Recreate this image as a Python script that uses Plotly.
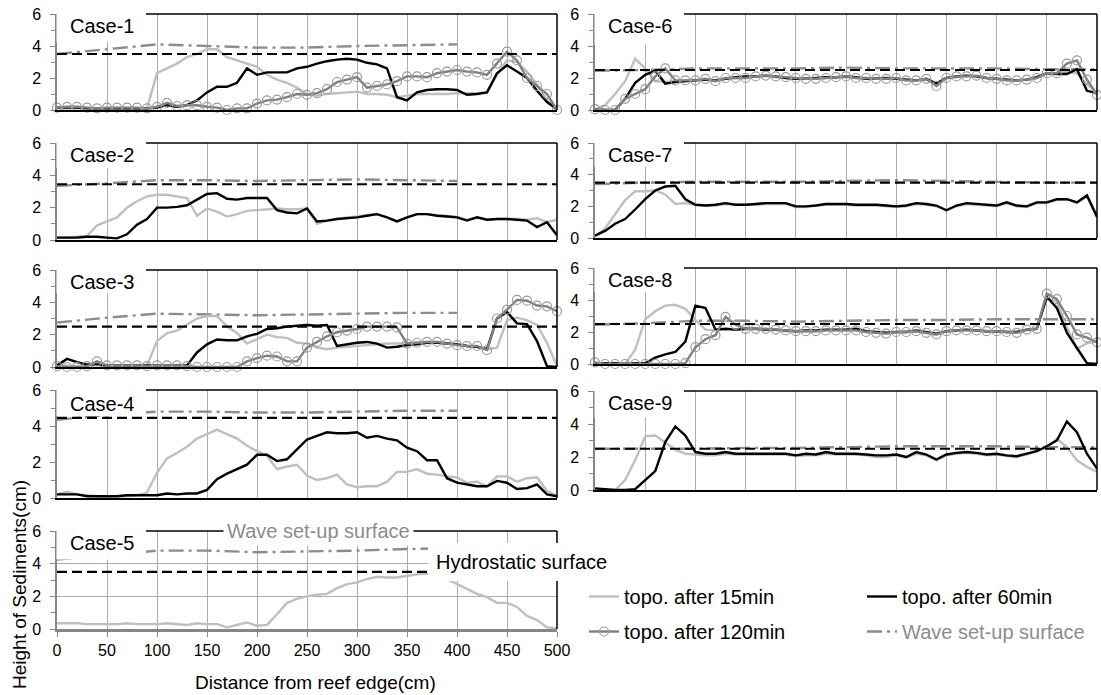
import plotly.graph_objects as go

FONT = "Liberation Sans, Arial, sans-serif"
W, H = 1101, 695

# ---------------- data ----------------
DIST = [0, 10, 20, 30, 40, 50, 60, 70, 80, 90, 100, 110, 120, 130, 140, 150, 160, 170, 180, 190,
        200, 210, 220, 230, 240, 250, 260, 270, 280, 290, 300, 310, 320, 330, 340, 350, 360, 370, 380, 390,
        400, 410, 420, 430, 440, 450, 460, 470, 480, 490, 500]
WAVE_X_LEFT = [0, 50, 100, 150, 200, 250, 300, 350, 400]
WAVE_X_RIGHT = [0, 50, 100, 150, 200, 250, 300, 350, 400, 450, 500]
X_TICKS = [0, 50, 100, 150, 200, 250, 300, 350, 400, 450, 500]
Y_TICKS = [0, 2, 4, 6]
Y_TICK_LABELS = ["0", "2", "4", "6"]
Y_MINOR = [1, 3, 5]
CASE_NAMES = ["Case-1", "Case-2", "Case-3", "Case-4", "Case-5", "Case-6", "Case-7", "Case-8", "Case-9"]
HYDRO_LEVELS = [3.5, 3.45, 2.5, 4.45, 3.5, 2.5, 3.5, 2.5, 2.5]
SERIES_NAMES = ["topo. after 15min", "topo. after 60min", "topo. after 120min", "Wave set-up surface"]

# Case-1
T15_C1 = [0.1, 0.1, 0.1, 0.1, 0.05, 0.05, 0.05, 0.05, 0.05, 0.1,
          2.3, 2.6, 2.9, 3.3, 3.5, 3.8, 3.8, 3.3, 3.1, 2.9,
          2.7, 2.2, 1.9, 1.7, 1.4, 1.0, 0.9, 1.0, 1.05, 1.1,
          1.15, 1.0, 1.0, 0.95, 0.8, 0.9, 1.0, 1.0, 1.0, 1.0,
          1.05, 1.05, 1.05, 1.1, 2.2, 3.1, 3.0, 2.4, 1.6, 0.6, 0.0]
T60_C1 = [0.15, 0.15, 0.15, 0.1, 0.1, 0.1, 0.1, 0.1, 0.1, 0.1,
          0.15, 0.3, 0.2, 0.3, 0.6, 1.1, 1.45, 1.45, 1.7, 2.6,
          2.2, 2.35, 2.35, 2.35, 2.6, 2.7, 2.9, 3.05, 3.15, 3.2,
          3.15, 2.95, 2.85, 2.6, 0.8, 0.6, 1.1, 1.25, 1.3, 1.3,
          1.25, 0.95, 1.0, 1.1, 2.3, 2.8, 2.4, 2.0, 1.2, 0.5, 0.05]
T120_C1 = [0.15, 0.2, 0.2, 0.15, 0.1, 0.15, 0.15, 0.15, 0.15, 0.1,
           0.2, 0.45, 0.25, 0.3, 0.3, 0.2, 0.15, 0.0, 0.1, 0.1,
           0.4, 0.6, 0.65, 0.8, 1.0, 0.95, 1.05, 1.3, 1.75, 1.9,
           2.05, 1.4, 1.5, 1.6, 1.8, 2.1, 2.1, 2.05, 2.3, 2.4,
           2.5, 2.4, 2.35, 2.2, 2.9, 3.65, 3.1, 2.0, 1.5, 1.0, 0.0]
WAVE_C1 = [3.5, 3.8, 4.1, 4.0, 3.9, 3.9, 4.0, 4.05, 4.1]

# Case-2
T15_C2 = [0.15, 0.15, 0.2, 0.25, 0.9, 1.15, 1.4, 2.0, 2.4, 2.7,
          2.8, 2.8, 2.7, 2.6, 1.5, 1.95, 1.75, 1.45, 1.6, 1.8,
          1.85, 1.9, 1.95, 1.9, 1.9, 1.95, 1.0, 1.2, 1.3, 1.4,
          1.45, 1.55, 1.6, 1.4, 1.15, 1.4, 1.6, 1.6, 1.55, 1.5,
          1.45, 1.25, 1.4, 1.25, 1.3, 1.3, 1.3, 1.25, 1.35, 1.1, 1.25]
T60_C2 = [0.15, 0.15, 0.15, 0.2, 0.2, 0.15, 0.1, 0.35, 0.95, 1.3,
          2.0, 2.0, 2.05, 2.15, 2.5, 2.85, 2.9, 2.55, 2.5, 2.6,
          2.6, 2.6, 1.85, 1.7, 1.65, 1.95, 1.15, 1.2, 1.3, 1.35,
          1.4, 1.5, 1.6, 1.4, 1.15, 1.4, 1.6, 1.6, 1.5, 1.45,
          1.4, 1.2, 1.4, 1.25, 1.3, 1.3, 1.25, 1.2, 0.8, 1.1, 0.3]
WAVE_C2 = [3.35, 3.5, 3.7, 3.7, 3.65, 3.7, 3.75, 3.7, 3.65]

# Case-3
T15_C3 = [0.1, 0.1, 0.05, 0.1, 0.1, 0.05, 0.05, 0.05, 0.1, 0.1,
          1.6, 2.1, 2.25, 2.6, 3.0, 3.15, 3.15, 2.5, 2.1, 1.45,
          1.75, 2.0, 1.85, 1.8, 1.5, 1.45, 1.2, 1.1, 1.2, 1.25,
          1.3, 1.35, 1.4, 1.45, 1.45, 1.45, 1.5, 1.55, 1.55, 1.5,
          1.4, 1.3, 1.25, 1.1, 1.2, 2.9, 3.05, 2.9, 2.6, 1.5, 0.05]
T60_C3 = [0.1, 0.5, 0.3, 0.15, 0.15, 0.1, 0.1, 0.1, 0.1, 0.1,
          0.1, 0.1, 0.1, 0.1, 0.9, 1.4, 1.7, 1.65, 1.65, 1.9,
          2.05, 2.35, 2.4, 2.5, 2.55, 2.6, 2.55, 2.6, 1.3, 1.4,
          1.5, 1.55, 1.45, 1.2, 1.25, 1.35, 1.4, 1.5, 1.5, 1.45,
          1.4, 1.3, 1.25, 1.1, 3.0, 3.4, 2.7, 2.65, 1.6, 0.05, 0.0]
T120_C3 = [0.05, 0.0, 0.0, 0.05, 0.35, 0.1, 0.1, 0.1, 0.1, 0.05,
           0.1, 0.1, 0.1, 0.05, 0.0, 0.0, 0.0, 0.0, 0.0, 0.35,
           0.55, 0.7, 0.65, 0.35, 0.35, 1.2, 1.55, 1.9, 2.15, 2.25,
           2.35, 2.5, 2.5, 2.5, 2.45, 1.45, 1.5, 1.55, 1.55, 1.45,
           1.35, 1.3, 1.3, 1.05, 3.0, 3.55, 4.15, 4.1, 3.8, 3.75, 3.45]
WAVE_C3 = [2.75, 3.05, 3.3, 3.25, 3.2, 3.25, 3.3, 3.35, 3.35]

# Case-4
T15_C4 = [0.2, 0.35, 0.2, 0.15, 0.1, 0.1, 0.1, 0.1, 0.15, 0.3,
          1.4, 2.2, 2.5, 2.85, 3.3, 3.55, 3.8, 3.55, 3.3, 2.9,
          2.6, 2.35, 1.6, 1.75, 1.85, 1.25, 1.0, 1.1, 1.3, 0.75,
          0.6, 0.65, 0.65, 0.9, 1.45, 1.45, 1.6, 1.35, 1.3, 1.2,
          1.15, 0.85, 0.9, 0.65, 1.2, 1.2, 0.9, 1.1, 1.15, 0.4, 0.1]
T60_C4 = [0.2, 0.2, 0.2, 0.1, 0.1, 0.1, 0.1, 0.15, 0.15, 0.15,
          0.15, 0.25, 0.2, 0.25, 0.25, 0.45, 1.05, 1.35, 1.6, 1.85,
          2.4, 2.4, 2.05, 2.15, 2.7, 3.25, 3.45, 3.65, 3.6, 3.6,
          3.65, 3.35, 3.45, 3.3, 3.2, 2.8, 2.6, 2.1, 2.1, 1.1,
          0.85, 0.75, 0.65, 0.65, 0.95, 0.85, 0.5, 0.55, 0.75, 0.2, 0.1]
WAVE_C4 = [4.35, 4.6, 4.8, 4.8, 4.75, 4.75, 4.8, 4.85, 4.85]

# Case-5
T15_C5 = [0.35, 0.35, 0.35, 0.3, 0.3, 0.3, 0.3, 0.35, 0.3, 0.3,
          0.3, 0.35, 0.3, 0.25, 0.35, 0.3, 0.3, 0.1, 0.25, 0.4,
          0.2, 0.25, 0.9, 1.6, 1.85, 2.0, 2.1, 2.15, 2.5, 2.75,
          2.85, 3.05, 3.2, 3.15, 3.15, 3.25, 3.35, 3.4, 3.35, 3.05,
          2.75, 2.4, 2.15, 1.95, 1.6, 1.6, 1.35, 0.8, 0.55, 0.1, 0.05]
WAVE_C5 = [4.25, 4.5, 4.8, 4.8, 4.7, 4.75, 4.8, 4.9, 4.95]

# Case-6
T15_C6 = [0.05, 0.3, 1.0, 1.8, 3.2, 2.6, 1.8, 1.75, 1.8, 1.85,
          1.9, 1.9, 1.85, 1.95, 2.0, 2.05, 2.1, 2.1, 2.05, 2.0,
          1.95, 1.95, 1.95, 2.0, 2.05, 2.05, 2.0, 1.95, 1.95, 1.95,
          1.95, 1.85, 1.85, 1.9, 1.6, 2.0, 2.05, 2.1, 2.1, 2.0,
          1.95, 1.85, 1.85, 1.9, 2.0, 2.25, 2.3, 2.4, 2.3, 1.6, 1.1]
T60_C6 = [0.05, 0.0, 0.0, 0.7, 1.7, 2.2, 2.45, 1.65, 1.75, 1.8,
          1.85, 1.9, 1.85, 1.95, 2.05, 2.1, 2.1, 2.15, 2.1, 2.0,
          1.95, 1.95, 2.0, 2.05, 2.05, 2.1, 2.05, 1.95, 1.95, 2.0,
          1.95, 1.9, 1.85, 1.95, 1.65, 2.0, 2.1, 2.15, 2.1, 2.0,
          1.95, 1.9, 1.85, 1.9, 2.05, 2.3, 2.25, 2.25, 2.55, 1.2, 1.05]
T120_C6 = [0.05, 0.0, 0.0, 0.7, 1.0, 1.3, 2.1, 2.6, 1.85, 1.85,
           1.85, 1.95, 1.8, 2.0, 2.0, 2.0, 2.1, 2.15, 2.1, 2.05,
           2.0, 1.95, 1.95, 2.0, 2.05, 2.1, 2.0, 2.0, 1.95, 1.95,
           2.0, 1.85, 1.85, 1.95, 1.5, 2.0, 2.1, 2.1, 2.15, 2.0,
           1.95, 1.85, 1.85, 1.9, 2.0, 2.3, 2.3, 2.9, 3.1, 1.9, 0.95]
WAVE_C6 = [2.45, 2.5, 2.6, 2.6, 2.6, 2.65, 2.6, 2.6, 2.6, 2.55, 2.55]

# Case-7
T15_C7 = [0.1, 0.6, 1.5, 2.4, 2.95, 2.95, 3.0, 2.75, 2.15, 2.2,
          2.1, 2.05, 2.05, 2.15, 2.1, 2.1, 2.1, 2.15, 2.15, 2.15,
          1.95, 1.95, 2.05, 2.1, 2.1, 2.1, 2.05, 2.05, 2.05, 2.0,
          1.95, 2.0, 2.15, 2.1, 2.0, 1.75, 2.0, 2.15, 2.1, 2.05,
          2.0, 2.2, 2.0, 1.95, 2.2, 2.2, 2.4, 2.45, 2.25, 2.6, 1.3]
T60_C7 = [0.15, 0.45, 0.9, 1.2, 1.8, 2.45, 3.0, 3.25, 3.3, 2.45,
          2.1, 2.05, 2.1, 2.2, 2.1, 2.1, 2.15, 2.2, 2.2, 2.2,
          2.0, 2.0, 2.05, 2.15, 2.15, 2.15, 2.1, 2.1, 2.1, 2.05,
          2.0, 2.05, 2.2, 2.15, 2.05, 1.75, 2.05, 2.2, 2.15, 2.1,
          2.05, 2.25, 2.05, 2.0, 2.25, 2.25, 2.45, 2.45, 2.25, 2.7, 1.35]
WAVE_C7 = [3.4, 3.5, 3.55, 3.55, 3.55, 3.6, 3.65, 3.6, 3.55, 3.5, 3.5]

# Case-8
T15_C8 = [0.05, 0.05, 0.05, 0.0, 0.9, 2.8, 3.3, 3.65, 3.7, 3.45,
          2.75, 2.15, 2.1, 2.15, 2.15, 2.15, 2.15, 2.15, 2.1, 2.05,
          2.05, 2.05, 2.05, 2.1, 2.1, 2.1, 2.1, 2.0, 1.95, 1.9,
          2.0, 2.0, 2.05, 1.95, 1.85, 2.05, 2.1, 2.1, 2.1, 2.05,
          2.05, 2.0, 1.95, 2.1, 2.2, 4.1, 3.9, 2.3, 0.95, 1.3, 1.4]
T60_C8 = [0.05, 0.05, 0.05, 0.0, 0.05, 0.05, 0.4, 0.6, 0.75, 1.4,
          3.65, 3.5, 2.15, 2.2, 2.15, 2.2, 2.2, 2.15, 2.15, 2.1,
          2.05, 2.1, 2.1, 2.15, 2.15, 2.15, 2.2, 2.05, 2.0, 1.95,
          2.0, 2.0, 2.1, 2.0, 1.9, 2.05, 2.1, 2.15, 2.1, 2.05,
          2.05, 2.0, 2.0, 2.15, 2.2, 4.2, 3.5, 1.95, 1.0, 0.05, 0.0]
T120_C8 = [0.1, 0.0, 0.0, 0.0, 0.0, 0.0, 0.0, 0.0, 0.0, 0.05,
           1.05, 1.55, 1.8, 2.95, 2.45, 2.2, 2.2, 2.2, 2.15, 2.1,
           2.05, 2.05, 2.05, 2.1, 2.1, 2.1, 2.1, 2.0, 1.95, 1.9,
           2.0, 2.0, 2.05, 1.95, 1.85, 2.05, 2.1, 2.1, 2.1, 2.05,
           2.05, 2.0, 1.95, 2.15, 2.2, 4.4, 4.05, 3.0, 1.85, 1.65, 1.35]
WAVE_C8 = [2.45, 2.55, 2.7, 2.7, 2.65, 2.7, 2.75, 2.75, 2.8, 2.8, 2.8]

# Case-9
T15_C9 = [0.05, 0.0, 0.0, 0.6, 1.8, 3.25, 3.3, 2.9, 2.45, 2.2,
          2.15, 2.1, 2.1, 2.2, 2.15, 2.15, 2.15, 2.15, 2.15, 2.15,
          2.05, 2.1, 2.1, 2.2, 2.15, 2.15, 2.15, 2.1, 2.0, 2.0,
          2.1, 1.95, 2.2, 2.1, 1.8, 2.1, 2.2, 2.25, 2.2, 2.1,
          2.15, 2.05, 2.0, 2.15, 2.35, 2.6, 3.1, 2.6, 1.8, 1.4, 1.1]
T60_C9 = [0.1, 0.05, 0.0, 0.0, 0.05, 0.6, 1.15, 2.9, 3.85, 3.3,
          2.3, 2.2, 2.2, 2.3, 2.2, 2.2, 2.2, 2.2, 2.2, 2.2,
          2.1, 2.2, 2.15, 2.3, 2.2, 2.2, 2.2, 2.15, 2.1, 2.1,
          2.15, 2.0, 2.3, 2.15, 1.85, 2.15, 2.25, 2.3, 2.25, 2.15,
          2.2, 2.1, 2.05, 2.2, 2.35, 2.65, 3.0, 4.15, 3.5, 2.2, 1.3]
WAVE_C9 = [2.5, 2.5, 2.5, 2.55, 2.55, 2.6, 2.65, 2.65, 2.65, 2.6, 2.6]

# ---------------- styling / layout ----------------
C15 = "#BFBFBF"
C60 = "#000000"
C120 = "#7F7F7F"
CMARK = "#9A9A9A"
CWAVE = "#8C8C8C"
CAXIS = "#868686"
CGRID = "#ADADAD"
WAVE_DASH = "15px,5px,3px,5px"
HYD_DASH = "10px,5px"

COLS = [(57, 557), (595, 1097)]
# (series, column, top px (y=6), zero px (y=0), text-box bottom value)
panels = [
    (dict(t15=T15_C1, t60=T60_C1, t120=T120_C1, wx=WAVE_X_LEFT, wave=WAVE_C1), 0, 14, 110, 4.25),
    (dict(t15=T15_C2, t60=T60_C2, t120=None, wx=WAVE_X_LEFT, wave=WAVE_C2), 0, 143, 240, 4.45),
    (dict(t15=T15_C3, t60=T60_C3, t120=T120_C3, wx=WAVE_X_LEFT, wave=WAVE_C3), 0, 270, 367, 4.55),
    (dict(t15=T15_C4, t60=T60_C4, t120=None, wx=WAVE_X_LEFT, wave=WAVE_C4), 0, 390, 498, 4.55),
    (dict(t15=T15_C5, t60=None, t120=None, wx=WAVE_X_LEFT, wave=WAVE_C5), 0, 531, 629, 4.25),
    (dict(t15=T15_C6, t60=T60_C6, t120=T120_C6, wx=WAVE_X_RIGHT, wave=WAVE_C6), 1, 14, 110, 4.1),
    (dict(t15=T15_C7, t60=T60_C7, t120=None, wx=WAVE_X_RIGHT, wave=WAVE_C7), 1, 143, 238, 4.5),
    (dict(t15=T15_C8, t60=T60_C8, t120=T120_C8, wx=WAVE_X_RIGHT, wave=WAVE_C8), 1, 268, 364, 4.5),
    (dict(t15=T15_C9, t60=T60_C9, t120=None, wx=WAVE_X_RIGHT, wave=WAVE_C9), 1, 391, 490, 4.4),
]
LEGEND_OF = {SERIES_NAMES[0]: ("legend", 1), SERIES_NAMES[2]: ("legend", 2),
             SERIES_NAMES[1]: ("legend2", 1), SERIES_NAMES[3]: ("legend2", 2)}


def fx(px):
    return px / W


def fy(py):
    return 1 - py / H


fig = go.Figure()
layout = dict(
    width=W, height=H, margin=dict(l=0, r=0, t=0, b=0),
    paper_bgcolor="white", plot_bgcolor="white", template="none",
    font=dict(family=FONT, size=16, color="black"),
    shapes=[], annotations=[],
)

legend_done = set()

for i, (s, col, top, zero, boxb) in enumerate(panels, start=1):
    xs = "x" if i == 1 else f"x{i}"
    ys = "y" if i == 1 else f"y{i}"
    x0, x1 = COLS[col]

    def add(x, y, key, label, **kw):
        show = key not in legend_done
        if show:
            legend_done.add(key)
        leg, rank = LEGEND_OF[key]
        fig.add_trace(go.Scatter(
            x=x, y=y, name=label, xaxis=xs, yaxis=ys, cliponaxis=False,
            showlegend=show, legend=leg, legendrank=rank, legendgroup=key, hoverinfo="skip", **kw))

    add(s["wx"], s["wave"], SERIES_NAMES[3],
        "<span style='color:#8C8C8C'>" + SERIES_NAMES[3] + "</span>",
        mode="lines", line=dict(color=CWAVE, width=2.4, dash=WAVE_DASH))
    add(DIST, s["t15"], SERIES_NAMES[0], SERIES_NAMES[0],
        mode="lines", line=dict(color=C15, width=2.4))
    if s["t60"] is not None:
        add(DIST, s["t60"], SERIES_NAMES[1], SERIES_NAMES[1],
            mode="lines", line=dict(color=C60, width=2.4))
    if s["t120"] is not None:
        add(DIST, s["t120"], SERIES_NAMES[2], SERIES_NAMES[2],
            mode="lines+markers", line=dict(color=C120, width=2.4),
            marker=dict(symbol="circle-open", size=9, color=CMARK, line=dict(width=1.2, color=CMARK)))
    lvl = HYDRO_LEVELS[i - 1]
    fig.add_trace(go.Scatter(x=[DIST[0], DIST[-1]], y=[lvl, lvl], mode="lines", xaxis=xs, yaxis=ys,
                             line=dict(color="black", width=2.2, dash=HYD_DASH), showlegend=False,
                             hoverinfo="skip", cliponaxis=False))

    is5 = (i == 5)
    layout["xaxis" if i == 1 else f"xaxis{i}"] = dict(
        domain=[fx(x0), fx(x1)], range=[0, 500], anchor=ys,
        showgrid=True, gridcolor=CGRID, gridwidth=1, tickvals=X_TICKS,
        showline=True, linecolor=(CAXIS if is5 else "black"), linewidth=(2.5 if is5 else 1.5),
        zeroline=False, showticklabels=is5, ticks=("outside" if is5 else ""), ticklen=5,
        tickcolor=CAXIS, tickfont=dict(size=16, family=FONT), fixedrange=True,
    )
    layout["yaxis" if i == 1 else f"yaxis{i}"] = dict(
        domain=[fy(zero), fy(top)], range=[0, 6], anchor=xs,
        showgrid=is5, gridcolor=CGRID, gridwidth=1,
        tickvals=Y_TICKS, ticktext=Y_TICK_LABELS, ticks="outside", ticklen=5, tickcolor=CAXIS,
        minor=dict(tickvals=Y_MINOR, ticks="outside", ticklen=4, tickcolor=CAXIS, showgrid=False),
        showline=True, linecolor=CAXIS, linewidth=1.5, zeroline=False,
        tickfont=dict(size=16, family=FONT), ticklabelstandoff=6, fixedrange=True,
    )

    # frame: top and right borders
    layout["shapes"].append(dict(type="line", xref="paper", yref="paper", x0=fx(x0), x1=fx(x1),
                                 y0=fy(top), y1=fy(top), line=dict(color="black", width=1.5), layer="above"))
    layout["shapes"].append(dict(type="line", xref="paper", yref="paper", x0=fx(x1), x1=fx(x1),
                                 y0=fy(top), y1=fy(zero), line=dict(color="black", width=1.5), layer="above"))
    # white label box in the upper-left corner
    boxb_px = zero - boxb * (zero - top) / 6.0
    layout["shapes"].append(dict(type="rect", xref="paper", yref="paper", x0=fx(x0 - 0.5), x1=fx(x0 + 89),
                                 y0=fy(boxb_px), y1=fy(top - 9), fillcolor="white",
                                 line=dict(width=0), layer="above"))
    lab_px = zero - 5.25 * (zero - top) / 6.0
    layout["annotations"].append(dict(text=CASE_NAMES[i - 1], x=fx(x0 + 11), y=fy(lab_px), xref="paper",
                                      yref="paper", xanchor="left", yanchor="middle", showarrow=False,
                                      font=dict(size=20, family=FONT, color="black")))

# white box behind "Hydrostatic surface" (covers the end of the Case-5 set-up line)
layout["shapes"].append(dict(type="rect", xref="paper", yref="paper", x0=fx(428), x1=fx(612),
                             y0=fy(581), y1=fy(543), fillcolor="white", line=dict(width=0), layer="above"))
# labels in Case-5
layout["annotations"].append(dict(text="Wave set-up surface", x=fx(318), y=fy(531), xref="paper", yref="paper",
                                  xanchor="center", yanchor="middle", showarrow=False, bgcolor="white",
                                  borderpad=3, font=dict(size=20, family=FONT, color=CWAVE)))
layout["annotations"].append(dict(text="Hydrostatic surface", x=fx(434), y=fy(562), xref="paper", yref="paper",
                                  xanchor="left", yanchor="middle", showarrow=False,
                                  font=dict(size=20, family=FONT, color="black")))
# axis titles
layout["annotations"].append(dict(text="Distance from reef edge(cm)", x=fx(315), y=fy(682), xref="paper",
                                  yref="paper", xanchor="center", yanchor="middle", showarrow=False,
                                  font=dict(size=19, family=FONT, color="black")))
layout["annotations"].append(dict(text="Height of Sediments(cm)", x=fx(19), y=fy(585), xref="paper",
                                  yref="paper", xanchor="center", yanchor="middle", showarrow=False,
                                  textangle=-90, font=dict(size=19, family=FONT, color="black")))

layout["legend"] = dict(x=fx(584), y=fy(577), xanchor="left", yanchor="top", bgcolor="rgba(0,0,0,0)",
                        font=dict(size=20, family=FONT, color="black"), traceorder="grouped",
                        tracegroupgap=6, itemwidth=30)
layout["legend2"] = dict(x=fx(862), y=fy(577), xanchor="left", yanchor="top", bgcolor="rgba(0,0,0,0)",
                         font=dict(size=20, family=FONT, color="black"), traceorder="grouped",
                         tracegroupgap=6, itemwidth=30)

fig.update_layout(**layout)
fig.write_html("out.html")
